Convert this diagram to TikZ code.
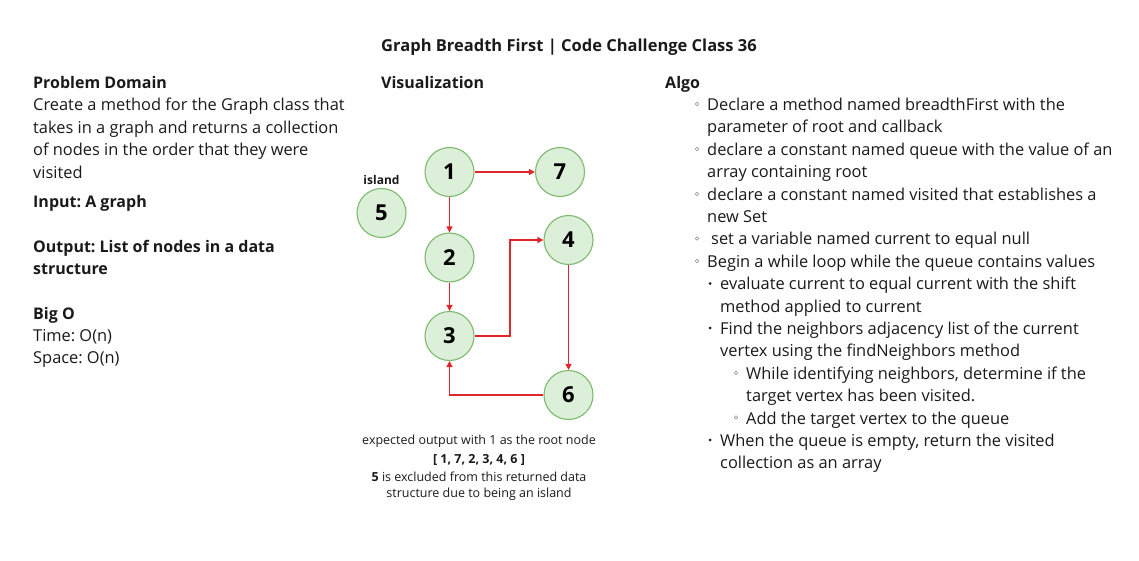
\documentclass[tikz,border=0pt]{standalone}
\usepackage{fontspec}
\setmainfont{Open Sans}
\frenchspacing
\usetikzlibrary{arrows.meta}
\definecolor{nodefill}{HTML}{DCEFD8}
\definecolor{nodeline}{HTML}{7DB96F}
\definecolor{edgered}{HTML}{E0262A}
\definecolor{txt}{HTML}{1A1A1A}
\definecolor{bulletgray}{HTML}{8A8A8A}
\tikzset{
  gnode/.style={circle, draw=nodeline, fill=nodefill, line width=1.1pt, minimum size=49pt, inner sep=0pt, font=\fontsize{22}{24}\selectfont\bfseries, text=black},
  redge/.style={draw=edgered, line width=1.2pt, -{Triangle[length=6pt,width=6pt]}},
  bodytxt/.style={anchor=base west, inner sep=0pt, text=txt, font=\fontsize{16.4}{18}\selectfont},
  headtxt/.style={anchor=base west, inner sep=0pt, text=txt, font=\fontsize{16}{18}\selectfont\bfseries},
  captxt/.style={anchor=base, inner sep=0pt, text=txt, font=\fontsize{12.5}{14}\selectfont},
  hollowb/.style={draw=bulletgray, line width=0.6pt, circle, inner sep=0pt, minimum size=3.5pt},
  dotb/.style={fill=txt, circle, inner sep=0pt, minimum size=3pt},
}
\begin{document}
\begin{tikzpicture}[x=1pt,y=-1pt]
\useasboundingbox (0,0) rectangle (1139,561);
% title
\node[anchor=base, inner sep=0pt, text=txt, font=\fontsize{16.5}{18}\selectfont\bfseries] (title) at (569,52) {Graph Breadth First | Code Challenge Class 36};
% left column
\node[headtxt] (pd) at (33,88.5) {Problem Domain};
\node[bodytxt] (l1) at (33,111) {Create a method for the Graph class that};
\node[bodytxt] (l2) at (33,133.4) {takes in a graph and returns a collection};
\node[bodytxt] (l3) at (33,155.8) {of nodes in the order that they were};
\node[bodytxt] (l4) at (33,178.2) {visited};
\node[headtxt] (inp) at (33,207.5) {Input: A graph};
\node[headtxt] (out1) at (33,252) {Output: List of nodes in a data};
\node[headtxt] (out2) at (33,274.4) {structure};
\node[headtxt] (bigo) at (33,319) {Big O};
\node[bodytxt] (time) at (33,341.4) {Time: O(n)};
\node[bodytxt] (space) at (33,363.8) {Space: O(n)};
% visualization
\node[headtxt] (vis) at (381,88.5) {Visualization};
\node[gnode] (n1) at (449.5,172) {1};
\node[gnode] (n7) at (560,172) {7};
\node[gnode] (n5) at (381.5,213) {5};
\node[anchor=base, inner sep=0pt, text=txt, font=\fontsize{12}{14}\selectfont\bfseries] (isl) at (381.5,184.5) {island};
\node[gnode] (n2) at (449.5,257.5) {2};
\node[gnode] (n4) at (568.5,240) {4};
\node[gnode] (n3) at (449.5,336) {3};
\node[gnode] (n6) at (568.5,395) {6};
\coordinate (b34) at (510,336);
\draw[redge] (n1) -- (n7);
\draw[redge] (n1) -- (n2);
\draw[redge] (n2) -- (n3);
\draw[redge] (n3.east) -- (b34) |- (n4.west);
\draw[redge] (n4) -- (n6);
\draw[redge] (n6.west) -| (n3.south);
% caption
\node[captxt] (c1) at (479,444.5) {expected output with 1 as the root node};
\node[captxt, font=\fontsize{12.5}{14}\selectfont\bfseries] (c2) at (479,463) {[ 1, 7, 2, 3, 4, 6 ]};
\node[captxt] (c3) at (479,481) {\textbf{5} is excluded from this returned data};
\node[captxt] (c4) at (479,497.5) {structure due to being an island};
% algo
\node[headtxt] (algo) at (665,88.5) {Algo};
\node[bodytxt] (a1) at (707,110.5) {Declare a method named breadthFirst with the};
\node[bodytxt] (a2) at (707,132.9) {parameter of root and callback};
\node[bodytxt] (a3) at (707,155.3) {declare a constant named queue with the value of an};
\node[bodytxt] (a4) at (707,177.7) {array containing root};
\node[bodytxt] (a5) at (707,200.1) {declare a constant named visited that establishes a};
\node[bodytxt] (a6) at (707,222.5) {new Set};
\node[bodytxt] (a7) at (711,244.9) {set a variable named current to equal null};
\node[bodytxt] (a8) at (707,267.3) {Begin a while loop while the queue contains values};
\node[bodytxt] (a9) at (720,289.7) {evaluate current to equal current with the shift};
\node[bodytxt] (a10) at (720,312.1) {method applied to current};
\node[bodytxt] (a11) at (720,334.5) {Find the neighbors adjacency list of the current};
\node[bodytxt] (a12) at (720,356.9) {vertex using the findNeighbors method};
\node[bodytxt] (a13) at (746,379.3) {While identifying neighbors, determine if the};
\node[bodytxt] (a14) at (746,401.7) {target vertex has been visited.};
\node[bodytxt] (a15) at (746,424.1) {Add the target vertex to the queue};
\node[bodytxt] (a16) at (720,446.5) {When the queue is empty, return the visited};
\node[bodytxt] (a17) at (720,468.9) {collection as an array};
% bullets
\node[hollowb] (b1) at (697,104) {};
\node[hollowb] (b2) at (697,149) {};
\node[hollowb] (b3) at (697,194) {};
\node[hollowb] (b4) at (697,238.5) {};
\node[hollowb] (b5) at (697,261) {};
\node[dotb] (b6) at (710,283.5) {};
\node[dotb] (b7) at (710,328) {};
\node[hollowb] (b8) at (736,373) {};
\node[hollowb] (b9) at (736,417.5) {};
\node[dotb] (b10) at (710,440) {};
\end{tikzpicture}
\end{document}
